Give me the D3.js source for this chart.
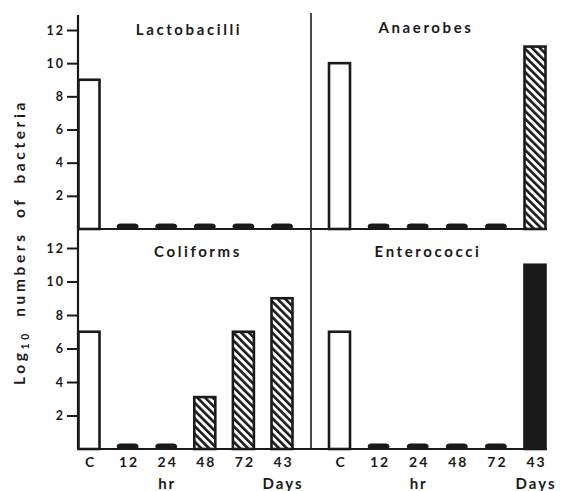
<!DOCTYPE html>
<html>
<head>
<meta charset="utf-8">
<script src="https://cdn.jsdelivr.net/npm/d3@7"></script>
<style>
  html, body { margin: 0; padding: 0; background: #fff; }
  svg { display: block; }
  text { font-family: "Lato", "DejaVu Sans", sans-serif; font-weight: 700; fill: #1a1a1a; }
</style>
</head>
<body>
<svg id="chart" width="561" height="491"></svg>
<script>
// Sampling times: control, hours after treatment, and days
const times = ["C", "12", "24", "48", "72", "43"];
const unitLabels = [{ text: "hr", at: "24" }, { text: "Days", at: "43" }];

// Log10 counts per group (tiny values mark counts below detection)
const lactobacilli = [9, 0.3, 0.3, 0.3, 0.3, 0.3];
const anaerobes    = [10, 0.3, 0.3, 0.3, 0.3, 11];
const coliforms    = [7, 0.3, 0.3, 3.1, 7, 9];
const enterococci  = [7, 0.3, 0.3, 0.3, 0.3, 11];

// Fill style per bar: open control, hatched treatment, solid
const lactoFill = ["open", "hatch", "hatch", "hatch", "hatch", "hatch"];
const anaeFill  = ["open", "hatch", "hatch", "hatch", "hatch", "hatch"];
const coliFill  = ["open", "hatch", "hatch", "hatch", "hatch", "hatch"];
const enteFill  = ["open", "hatch", "hatch", "hatch", "hatch", "solid"];

const yTicks = [2, 4, 6, 8, 10, 12];

const svg = d3.select("#chart");
const ink = "#1a1a1a";
const font = "Lato, DejaVu Sans, sans-serif";

// Diagonal hatching
const defs = svg.append("defs");
const pat = defs.append("pattern")
  .attr("id", "hatch")
  .attr("patternUnits", "userSpaceOnUse")
  .attr("width", 5.5).attr("height", 5.5)
  .attr("patternTransform", "rotate(-45)");
pat.append("rect").attr("width", 5.5).attr("height", 5.5).attr("fill", "#fff");
pat.append("rect").attr("x", 0).attr("y", 0).attr("width", 2.6).attr("height", 5.5).attr("fill", ink);

const axisX = 78, divX = 311, rightEnd = 547;
const topY = 14;

const yTop = d3.scaleLinear().domain([0, 12]).range([229, 30]);
const yBot = d3.scaleLinear().domain([0, 12]).range([449, 248]);

const xLeft = d3.scalePoint().domain(times).range([89, 282]);
const xRight = d3.scalePoint().domain(times).range([339.5, 535]);
const barW = 21;

const panels = [
  { title: "Lactobacilli", values: lactobacilli, fills: lactoFill, x: xLeft, y: yTop, tx: 189, ty: 35 },
  { title: "Anaerobes",   values: anaerobes,    fills: anaeFill,  x: xRight, y: yTop, tx: 426, ty: 33 },
  { title: "Coliforms",   values: coliforms,    fills: coliFill,  x: xLeft, y: yBot, tx: 198, ty: 257 },
  { title: "Enterococci", values: enterococci,  fills: enteFill,  x: xRight, y: yBot, tx: 428, ty: 257 }
];

// Frame lines: y axis, vertical divider
svg.append("line").attr("x1", axisX).attr("x2", axisX).attr("y1", topY + 1).attr("y2", yBot(0))
  .attr("stroke", ink).attr("stroke-width", 2.2);
svg.append("line").attr("x1", divX).attr("x2", divX).attr("y1", topY - 1).attr("y2", yBot(0))
  .attr("stroke", ink).attr("stroke-width", 1.6);

// Y axes (both rows)
[yTop, yBot].forEach(y => {
  const g = svg.append("g").attr("transform", `translate(${axisX},0)`)
    .call(d3.axisLeft(y).tickValues(yTicks).tickSize(11).tickPadding(2).tickFormat(d3.format("d")));
  g.select(".domain").remove();
  g.selectAll(".tick line").attr("stroke", ink).attr("stroke-width", 2);
  g.selectAll(".tick text").attr("font-size", 12.5).attr("font-family", font)
    .attr("font-weight", 700).attr("fill", ink).style("letter-spacing", "2px");
});

panels.forEach(p => {
  const g = svg.append("g");
  const data = times.map((t, i) => ({ t, v: p.values[i], f: p.fills[i] }));
  g.selectAll("rect.bar").data(data).join("rect")
    .attr("class", "bar")
    .attr("x", d => p.x(d.t) - barW / 2)
    .attr("y", d => p.y(d.v))
    .attr("width", barW)
    .attr("height", d => p.y(0) - p.y(d.v))
    .attr("rx", d => d.v < 0.5 ? 3 : 0)
    .attr("fill", d => d.v < 0.5 || d.f === "solid" ? ink : (d.f === "hatch" ? "url(#hatch)" : "#fff"))
    .attr("stroke", ink)
    .attr("stroke-width", d => d.v < 0.5 ? 1 : 2.6);

  g.append("text").attr("x", p.tx).attr("y", p.ty).attr("text-anchor", "middle")
    .attr("font-size", 15).style("letter-spacing", "2.6px").text(p.title);
});

// Baselines drawn over bar bottoms
[yTop, yBot].forEach(y => {
  svg.append("line").attr("x1", axisX).attr("x2", rightEnd).attr("y1", y(0)).attr("y2", y(0))
    .attr("stroke", ink).attr("stroke-width", 2.2);
});

// Time labels under bottom row
[xLeft, xRight].forEach(x => {
  const g = svg.append("g").attr("transform", `translate(0,${yBot(0)})`)
    .call(d3.axisBottom(x).tickSize(0).tickPadding(8));
  g.select(".domain").remove();
  g.selectAll(".tick text").attr("font-size", 14).attr("font-family", font)
    .attr("font-weight", 700).attr("fill", ink).attr("dx", "1px").style("letter-spacing", "2px");
  unitLabels.forEach(u => {
    svg.append("text").attr("x", x(u.at) + 1).attr("y", 489).attr("text-anchor", "middle")
      .attr("font-size", 15).style("letter-spacing", "2px").text(u.text);
  });
});

// Y axis title
svg.append("text")
  .attr("transform", "translate(25,242) rotate(-90)")
  .attr("text-anchor", "middle")
  .attr("font-size", 15.5)
  .style("letter-spacing", "3.6px")
  .style("word-spacing", "6px")
  .text("Log")
  .append("tspan").attr("font-size", 10.5).attr("dy", 4).text("10")
  .append("tspan").attr("font-size", 15.5).attr("dy", -4).text(" numbers of bacteria");
</script>
</body>
</html>
